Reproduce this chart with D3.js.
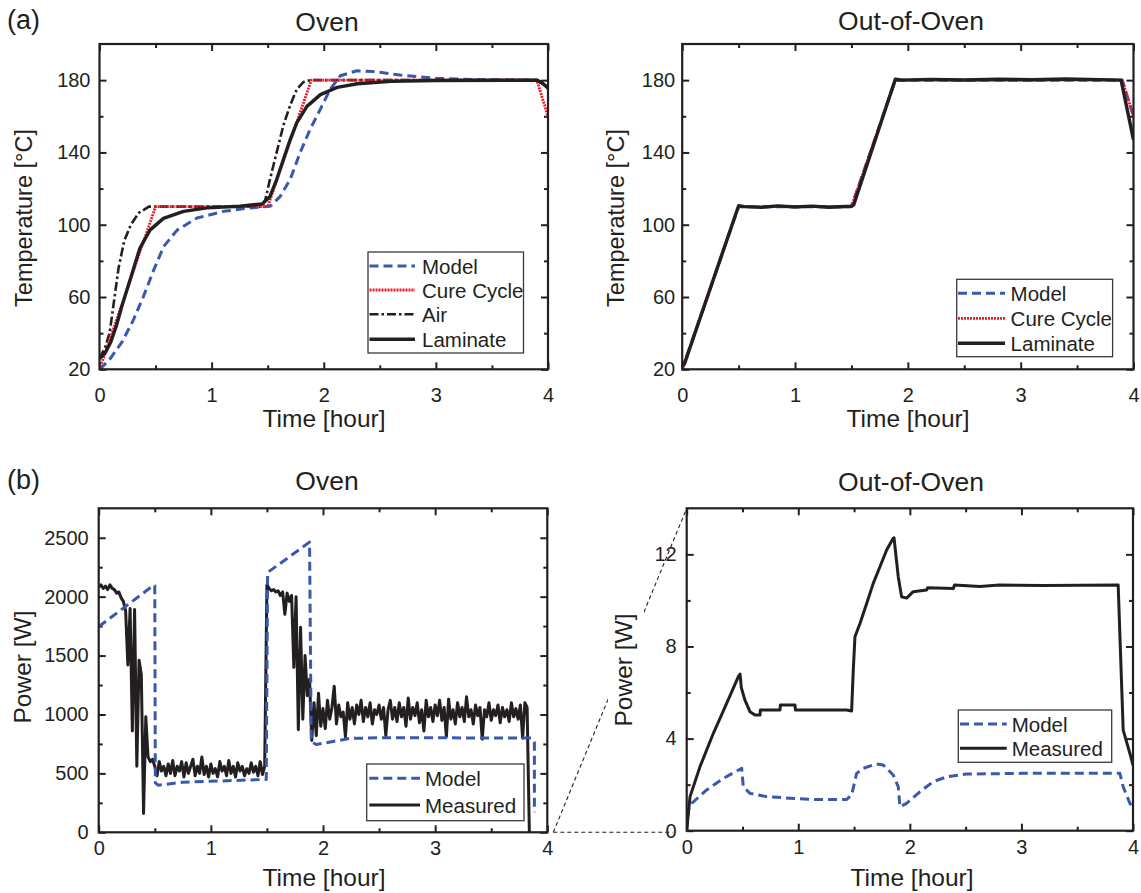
<!DOCTYPE html>
<html>
<head>
<meta charset="utf-8">
<script src="https://cdn.jsdelivr.net/npm/d3@7"></script>
<style>
  body { margin: 0; background: #fff; }
  text { font-family: "Liberation Sans", Arial, sans-serif; }
</style>
</head>
<body>
<svg id="fig" width="1141" height="893"></svg>
<script>
// ---- data ----
// (a) Oven temperature [°C] vs time [hour]
var ovenCureT   = [0, 0.5, 1.5, 1.889, 3.9, 4.0];
var ovenCureV   = [20, 110, 110, 180, 180, 160];
var ovenAirT    = [0, 0.05, 0.09, 0.13, 0.17, 0.22, 0.28, 0.35, 0.44, 1.45, 1.48, 1.52, 1.58, 1.64, 1.70, 1.76, 1.82, 1.88, 3.9, 4.0];
var ovenAirV    = [26, 32, 40, 58, 76, 91, 100, 106.5, 110, 110, 114, 125, 140, 155, 166, 175, 179, 180, 180, 176];
var ovenLamT    = [0, 0.05, 0.1, 0.15, 0.2, 0.25, 0.3, 0.36, 0.45, 0.57, 0.75, 0.96, 1.25, 1.45, 1.52, 1.58, 1.64, 1.70, 1.76, 1.85, 1.97, 2.12, 2.3, 2.6, 3.0, 3.9, 3.95, 4.0];
var ovenLamV    = [26, 29, 35, 44, 55, 65, 75, 87, 97, 103.5, 107.4, 109.3, 110.2, 111.5, 115.5, 125, 136, 147, 156.5, 165.5, 172, 176, 178, 179.3, 179.8, 180, 178.5, 175.5];
var ovenModelT  = [0, 0.085, 0.2, 0.3, 0.39, 0.484, 0.573, 0.692, 0.87, 1.107, 1.345, 1.523, 1.612, 1.70, 1.79, 1.88, 1.97, 2.058, 2.147, 2.296, 2.44, 2.68, 3.0, 3.36, 3.9, 4.0];
var ovenModelV  = [20, 25, 35, 47, 60, 75, 88, 97, 103.7, 107.4, 109.3, 110.2, 115.7, 125, 140, 153, 164, 175, 182.4, 185.2, 184.8, 182.8, 181, 180.3, 180, 176];

// (a) Out-of-Oven temperature
var oooCureT    = [0, 0.5, 1.5, 1.889, 3.9, 4.0];
var oooCureV    = [20, 110, 110, 180, 180, 160];
var oooModelT   = [0, 0.5, 1.5, 1.889, 3.9, 4.0];
var oooModelV   = [20, 110, 110, 180, 180, 160];
var oooLamT     = [0, 0.02, 0.25, 0.5, 0.55, 0.7, 0.85, 1.0, 1.15, 1.3, 1.5, 1.52, 1.889, 1.95, 2.2, 2.5, 2.8, 3.1, 3.4, 3.7, 3.89, 4.0];
var oooLamV     = [22, 23, 65, 110.5, 110, 109.6, 110.4, 109.8, 110.3, 109.7, 110.2, 111, 180.5, 180, 180.4, 180.1, 180.5, 180.2, 180.6, 180.3, 180, 147];

// (b) Oven power [W]; measured logged every 0.02 h
var ovenPowStep = 0.02;
var ovenPowMeasured = [
  2080, 2100, 2070, 2090, 2060, 2100, 2070, 2060, 2030, 2040,
  1990, 1960, 1880, 1420, 1900, 860, 1890, 560, 1460, 1340,
  160, 980, 640, 600, 620, 560, 480, 600, 520, 560,
  480, 580, 500, 610, 480, 560, 520, 600, 470, 590,
  500, 560, 620, 480, 560, 500, 640, 490, 560, 470,
  580, 500, 540, 470, 600, 520, 560, 480, 610, 500,
  560, 470, 590, 520, 560, 480, 540, 500, 590, 510,
  560, 480, 600, 490, 560, 2100, 2070, 2050, 2060, 2040,
  2050, 2010, 2040, 1850, 2030, 1960, 2010, 1400, 2000, 870,
  1740, 960, 1500, 1160, 1300, 780, 1100, 820, 1180, 900,
  1050, 880, 1120, 960, 1060, 1240, 920, 1080, 980, 1020,
  810, 1100, 960, 1060, 920, 1080, 1000, 1120, 940, 1060,
  980, 1100, 920, 1040, 1000, 1080, 960, 1060, 820, 1040,
  1120, 960, 1060, 940, 1100, 980, 1060, 900, 1140, 960,
  1060, 990, 1100, 930, 1040, 860, 1120, 980, 1060, 940,
  1080, 990, 1120, 950, 1060, 810, 1130, 960, 1040, 920,
  1100, 980, 1060, 940, 1150, 980, 1040, 920, 1080, 990,
  1060, 790, 1040, 980, 1100, 950, 1040, 990, 1080, 930,
  1060, 980, 1040, 940, 1100, 980, 1050, 960, 1080, 800,
  1100, 1060, 0
];
var ovenPowModelT = [0, 0.494, 0.5, 0.505, 0.53, 0.75, 1.494, 1.506, 1.88, 1.895, 1.94, 2.24, 2.55, 3.86, 3.885, 3.885];
var ovenPowModelV = [1745, 2100, 2095, 420, 400, 425, 449, 2205, 2463, 770, 745, 797, 803, 800, 760, 170];

// (b) Out-of-Oven power [W]
var oooPowMeasT = [0, 0.03, 0.119, 0.239, 0.358, 0.463, 0.478, 0.49, 0.522, 0.567, 0.612, 0.657, 0.66, 0.836, 0.84, 0.97, 0.975, 1.434, 1.478, 1.493, 1.508, 1.553, 1.613, 1.672, 1.732, 1.792, 1.851, 1.858, 1.896, 1.926, 1.971, 2.03, 2.15, 2.16, 2.39, 2.40, 2.628, 2.8, 3.2, 3.867, 3.912, 3.972, 4.0];
var oooPowMeasV = [0.03, 1.48, 2.78, 4.23, 5.53, 6.69, 6.8, 6.2, 5.67, 5.17, 5.02, 5.02, 5.24, 5.24, 5.46, 5.46, 5.24, 5.24, 5.2, 6.98, 8.42, 9.0, 9.87, 10.74, 11.46, 12.19, 12.7, 12.72, 11.03, 10.16, 10.1, 10.38, 10.45, 10.55, 10.52, 10.67, 10.6, 10.67, 10.65, 10.67, 4.37, 3.36, 2.85];
var oooPowModelT = [0, 0.014, 0.045, 0.179, 0.328, 0.493, 0.507, 0.567, 0.717, 0.926, 1.134, 1.434, 1.478, 1.523, 1.583, 1.702, 1.762, 1.851, 1.896, 1.911, 1.971, 2.09, 2.21, 2.33, 2.509, 3.0, 3.882, 3.912, 3.972, 4.0];
var oooPowModelV = [0, 0.9, 1.19, 1.77, 2.27, 2.71, 1.91, 1.62, 1.48, 1.41, 1.36, 1.36, 1.55, 2.49, 2.71, 2.9, 2.85, 2.42, 1.91, 1.04, 1.19, 1.69, 2.13, 2.34, 2.46, 2.49, 2.49, 1.91, 1.19, 1.0];

var xMajor = [0, 1, 2, 3, 4];
var xMinor = [0.5, 1.5, 2.5, 3.5];
var tempMajor = [20, 60, 100, 140, 180];
var tempMinor = [40, 80, 120, 160];
var ovenPowMajor = [0, 500, 1000, 1500, 2000, 2500];
var ovenPowMinor = [250, 750, 1250, 1750, 2250];
var oooPowMajor = [0, 4, 8, 12];
var oooPowMinor = [2, 6, 10];

// ---- drawing ----
var ink = "#231f20";
var blue = "#3a59ad";
var red = "#ec1c24";
var svg = d3.select("#fig");
svg.append("rect").attr("width", 1141).attr("height", 893).attr("fill", "#fff");

var styles = {
  model:    { stroke: blue, width: 3, dash: "9,5" },
  cure:     { stroke: red, width: 2.8, dash: "2,1" },
  air:      { stroke: ink, width: 2.6, dash: "9,3,2.5,3" },
  laminate: { stroke: ink, width: 3.4, dash: null },
  measured: { stroke: ink, width: 3, dash: null }
};

function makePanel(o) {
  var g = svg.append("g");
  var x = d3.scaleLinear().domain([0, 4]).range([o.left, o.right]);
  var y = d3.scaleLinear().domain(o.yDomain).range([o.bottom, o.top]);

  function ticks(axis, vals, size, fmt, tr, pad) {
    var a = g.append("g").attr("transform", tr)
      .call(axis.tickValues(vals).tickSizeInner(-size).tickSizeOuter(0).tickPadding(pad).tickFormat(fmt));
    a.select(".domain").remove();
    a.attr("color", ink).attr("font-size", 20).attr("font-family", '"Liberation Sans", Arial, sans-serif');
    a.selectAll(".tick line").attr("stroke-width", 2);
    return a;
  }
  var none = function() { return ""; };
  var num = d3.format("d");
  ticks(d3.axisBottom(x), xMajor, 7, num, "translate(0," + o.bottom + ")", o.xPad);
  ticks(d3.axisBottom(x), xMinor, 4, none, "translate(0," + o.bottom + ")", 0);
  ticks(d3.axisTop(x), xMajor, 7, none, "translate(0," + o.top + ")", 0);
  ticks(d3.axisTop(x), xMinor, 4, none, "translate(0," + o.top + ")", 0);
  ticks(d3.axisLeft(y), o.yMajor, 7, num, "translate(" + o.left + ",0)", o.yPad);
  ticks(d3.axisLeft(y), o.yMinor, 4, none, "translate(" + o.left + ",0)", 0);
  ticks(d3.axisRight(y), o.yMajor, 7, none, "translate(" + o.right + ",0)", 0);
  ticks(d3.axisRight(y), o.yMinor, 4, none, "translate(" + o.right + ",0)", 0);

  var clipId = "clip" + Math.round(o.left) + "_" + Math.round(o.top);
  g.append("clipPath").attr("id", clipId).append("rect")
    .attr("x", o.left).attr("y", o.top - 2).attr("width", o.right - o.left).attr("height", o.bottom - o.top + 4);
  var lines = g.append("g").attr("clip-path", "url(#" + clipId + ")");

  g.append("text").attr("x", o.titleX).attr("y", o.titleY).attr("text-anchor", "middle")
    .attr("font-size", 26.5).attr("fill", ink).text(o.title);
  g.append("text").attr("x", o.xLabelX).attr("y", o.xLabelY).attr("text-anchor", "middle")
    .attr("font-size", 24.5).attr("fill", ink).text("Time [hour]");

  return { g: g, x: x, y: y, lines: lines, o: o };
}

function frame(p) {
  var o = p.o;
  p.g.append("rect").attr("x", o.left).attr("y", o.top)
    .attr("width", o.right - o.left).attr("height", o.bottom - o.top)
    .attr("fill", "none").attr("stroke", ink).attr("stroke-width", 2.2);
}

function yLabel(x, y, size, txt) {
  return svg.append("text").attr("transform", "translate(" + x + "," + y + ") rotate(-90)")
    .attr("text-anchor", "middle").attr("font-size", size).attr("fill", ink).text(txt);
}

function series(p, ts, vs, st) {
  var pts = ts.map(function(t, i) { return [t, vs[i]]; });
  var line = d3.line().x(function(d) { return p.x(d[0]); }).y(function(d) { return p.y(d[1]); });
  var path = p.lines.append("path").datum(pts).attr("d", line)
    .attr("fill", "none").attr("stroke", st.stroke).attr("stroke-width", st.width)
    .attr("stroke-linejoin", "round");
  if (st.dash) path.attr("stroke-dasharray", st.dash);
}

function legend(box, rows) {
  var g = svg.append("g");
  g.append("rect").attr("x", box.x0).attr("y", box.y0)
    .attr("width", box.x1 - box.x0).attr("height", box.y1 - box.y0)
    .attr("fill", "#fff").attr("stroke", "#3a3a3a").attr("stroke-width", 1.3);
  rows.forEach(function(r, i) {
    var yy = box.rows[i];
    var l = g.append("line").attr("x1", box.l0).attr("x2", box.l1).attr("y1", yy).attr("y2", yy)
      .attr("stroke", r.st.stroke).attr("stroke-width", r.st.width);
    if (r.st.dash) l.attr("stroke-dasharray", r.st.dash);
    g.append("text").attr("x", box.tx).attr("y", yy + 7.5).attr("font-size", 20.5).attr("fill", ink).text(r.label);
  });
}

// panel (a) Oven
var pA1 = makePanel({ left: 99.5, right: 548, top: 44, bottom: 369.3, yDomain: [20, 200],
  yMajor: tempMajor, yMinor: tempMinor, xPad: 19, yPad: 9,
  title: "Oven", titleX: 327, titleY: 30.5, xLabelX: 324, xLabelY: 427 });
series(pA1, ovenModelT, ovenModelV, styles.model);
series(pA1, ovenAirT, ovenAirV, styles.air);
series(pA1, ovenCureT, ovenCureV, styles.cure);
series(pA1, ovenLamT, ovenLamV, styles.laminate);
frame(pA1);
legend({ x0: 368, x1: 523.5, y0: 252, y1: 353, l0: 369.5, l1: 415, tx: 422, rows: [266, 290, 314.3, 339.3] },
  [{ label: "Model", st: styles.model }, { label: "Cure Cycle", st: styles.cure },
   { label: "Air", st: styles.air }, { label: "Laminate", st: styles.laminate }]);
yLabel(32, 218, 23.5, "Temperature [°C]");

// panel (a) Out-of-Oven
var pA2 = makePanel({ left: 682.2, right: 1133.5, top: 44, bottom: 369.3, yDomain: [20, 200],
  yMajor: tempMajor, yMinor: tempMinor, xPad: 19, yPad: 7,
  title: "Out-of-Oven", titleX: 911, titleY: 30.3, xLabelX: 908, xLabelY: 427 });
series(pA2, oooModelT, oooModelV, styles.model);
series(pA2, oooCureT, oooCureV, styles.cure);
series(pA2, oooLamT, oooLamV, styles.laminate);
frame(pA2);
legend({ x0: 956.7, x1: 1112.6, y0: 279.3, y1: 356.7, l0: 958, l1: 1005, tx: 1010.6, rows: [293.3, 318.3, 343.3] },
  [{ label: "Model", st: styles.model }, { label: "Cure Cycle", st: styles.cure },
   { label: "Laminate", st: styles.laminate }]);
yLabel(624, 218, 23.5, "Temperature [°C]");

// panel (b) Oven
var pB1 = makePanel({ left: 98.7, right: 547.3, top: 508.3, bottom: 832.3, yDomain: [0, 2750],
  yMajor: ovenPowMajor, yMinor: ovenPowMinor, xPad: 9, yPad: 10,
  title: "Oven", titleX: 327, titleY: 490.3, xLabelX: 324, xLabelY: 886 });
var ovenPowT = ovenPowMeasured.map(function(v, i) { return i * ovenPowStep; });
series(pB1, ovenPowT, ovenPowMeasured, styles.measured);
series(pB1, ovenPowModelT, ovenPowModelV, styles.model);
frame(pB1);
legend({ x0: 366.7, x1: 524, y0: 764, y1: 820.7, l0: 369.3, l1: 420, tx: 425, rows: [778.3, 805] },
  [{ label: "Model", st: styles.model }, { label: "Measured", st: styles.measured }]);
yLabel(30.5, 667, 24.5, "Power [W]");

// panel (b) Out-of-Oven
var pB2 = makePanel({ left: 686.7, right: 1133, top: 508.3, bottom: 830.7, yDomain: [0, 14],
  yMajor: oooPowMajor, yMinor: oooPowMinor, xPad: 9, yPad: 10,
  title: "Out-of-Oven", titleX: 911, titleY: 490.5, xLabelX: 912, xLabelY: 886 });
series(pB2, oooPowModelT, oooPowModelV, styles.model);
series(pB2, oooPowMeasT, oooPowMeasV, styles.measured);
frame(pB2);
legend({ x0: 958.3, x1: 1111.7, y0: 710, y1: 762.3, l0: 960, l1: 1006.7, tx: 1011.7, rows: [724, 748.3] },
  [{ label: "Model", st: styles.model }, { label: "Measured", st: styles.measured }]);

// zoom connector between the two power panels
var cx0 = pB1.x(4) + 6, cy0 = pB1.y(0);
svg.append("line").attr("x1", cx0).attr("y1", cy0).attr("x2", pB2.x(0) - 14).attr("y2", cy0)
  .attr("stroke", ink).attr("stroke-width", 1.1).attr("stroke-dasharray", "4,3");
svg.append("line").attr("x1", cx0).attr("y1", cy0).attr("x2", pB2.x(0)).attr("y2", pB2.y(14))
  .attr("stroke", ink).attr("stroke-width", 1.1).attr("stroke-dasharray", "4,3");
svg.append("rect").attr("x", 608).attr("y", 600).attr("width", 36).attr("height", 135).attr("fill", "#fff");
yLabel(632, 670, 24.5, "Power [W]");

// panel letters
svg.append("text").attr("x", 7).attr("y", 29).attr("font-size", 27).attr("fill", ink).text("(a)");
svg.append("text").attr("x", 7).attr("y", 489).attr("font-size", 27).attr("fill", ink).text("(b)");
</script>
</body>
</html>
